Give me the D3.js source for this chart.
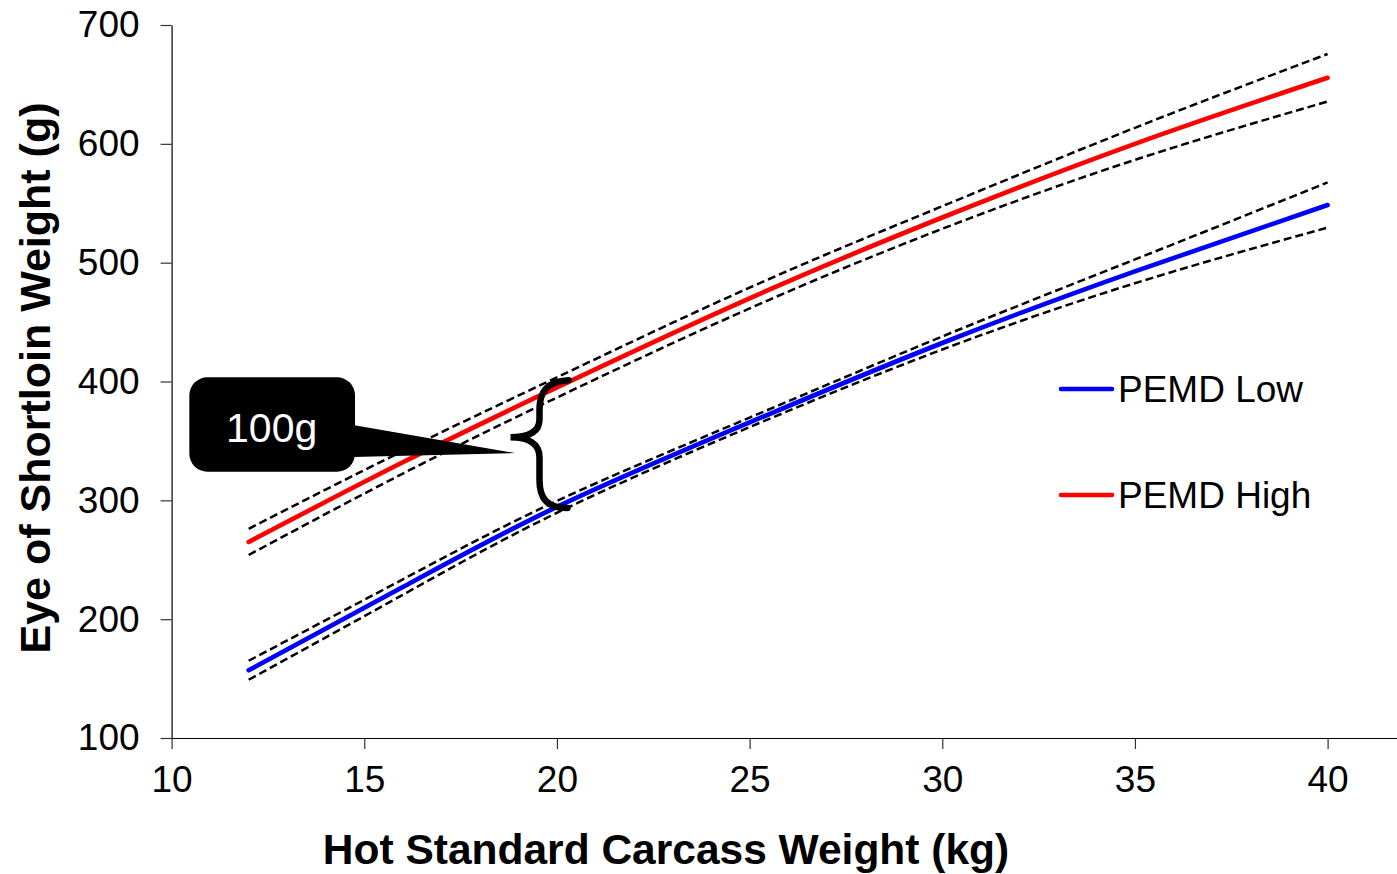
<!DOCTYPE html>
<html>
<head>
<meta charset="utf-8">
<script src="https://cdn.jsdelivr.net/npm/d3@7"></script>
<style>
  html, body { margin: 0; padding: 0; background: #fff; }
  svg { display: block; font-family: "Liberation Sans", Arial, sans-serif; }
</style>
</head>
<body>
<svg id="chart" width="1397" height="874"></svg>
<script>
// Hot standard carcass weight (kg) at which the curves are sampled
const hscw = [12, 16, 20, 25, 30, 35, 40];

// Predicted eye of shortloin weight (g), with upper / lower confidence bounds
const lowMean  = [157, 227, 294.5, 365.6, 432.4, 492.7, 548.5];
const lowUpper = [165, 233.5, 299.5, 369.6, 437.9, 502.7, 567.5];
const lowLower = [149, 220.5, 289.5, 361.6, 426.9, 482.7, 529.5];

const highMean  = [265, 332, 395, 470, 538, 600, 655.6];
const highUpper = [276, 341.5, 403.5, 479, 547.5, 613.5, 675.6];
const highLower = [254, 322.5, 386.5, 461.5, 528.5, 586.5, 635.6];

const seriesNames = ["PEMD Low", "PEMD High"];
const xTicks = [10, 15, 20, 25, 30, 35, 40];
const yTicks = [100, 200, 300, 400, 500, 600, 700];

// Difference annotation between the two curves
const diffLabel = "100g";
const braceAt = 20.3;          // kg
const braceTop = 401;          // g (on PEMD High)
const braceBottom = 293.5;     // g (on PEMD Low)

const W = 1397, H = 874;
const svg = d3.select("#chart");

const x = d3.scaleLinear().domain([10, 40]).range([171.6, 1327.6]);
const y = d3.scaleLinear().domain([100, 700]).range([738, 25]);

const FONT = 37;

// ---- axes ----
const xAxis = d3.axisBottom(x).tickValues(xTicks).tickSize(11).tickPadding(17).tickSizeOuter(0);
const gx = svg.append("g").attr("transform", `translate(0,${y(100)})`).call(xAxis);
gx.select(".domain").remove();
gx.append("line")
  .attr("x1", x(10)).attr("x2", W).attr("y1", 0.5).attr("y2", 0.5)
  .attr("stroke", "#000").attr("stroke-width", 1.2);
gx.selectAll(".tick line").attr("stroke", "#333").attr("stroke-width", 1.2);
gx.selectAll(".tick text").attr("font-size", FONT).attr("fill", "#000")
  .attr("font-family", "'Liberation Sans', Arial, sans-serif");

const yAxis = d3.axisLeft(y).tickValues(yTicks).tickSize(11).tickPadding(21).tickSizeOuter(0);
const gy = svg.append("g").attr("transform", `translate(${x(10)},0)`).call(yAxis);
gy.select(".domain").attr("stroke", "#000").attr("stroke-width", 1.2);
gy.selectAll(".tick line").attr("stroke", "#333").attr("stroke-width", 1.2);
gy.selectAll(".tick text").attr("font-size", FONT).attr("fill", "#000")
  .attr("font-family", "'Liberation Sans', Arial, sans-serif");

// axis titles
svg.append("text")
  .attr("x", 666).attr("y", 864)
  .attr("text-anchor", "middle")
  .attr("font-size", 42.5).attr("font-weight", "bold")
  .text("Hot Standard Carcass Weight (kg)");

svg.append("text")
  .attr("transform", `translate(50,378) rotate(-90)`)
  .attr("text-anchor", "middle")
  .attr("font-size", 43).attr("font-weight", "bold")
  .text("Eye of Shortloin Weight (g)");

// ---- curves ----
const line = d3.line()
  .x((d, i) => x(hscw[i]))
  .y(d => y(d))
  .curve(d3.curveNatural);

const plot = svg.append("g");

const means = [
  { values: lowMean, color: "#0000ff" },
  { values: highMean, color: "#ff0000" }
];
plot.selectAll("path.mean").data(means).join("path")
  .attr("class", "mean")
  .attr("d", d => line(d.values))
  .attr("fill", "none")
  .attr("stroke", d => d.color)
  .attr("stroke-width", 4.6)
  .attr("stroke-linecap", "round")
  .attr("stroke-linejoin", "round");

const bounds = [lowUpper, lowLower, highUpper, highLower];
plot.selectAll("path.bound").data(bounds).join("path")
  .attr("class", "bound")
  .attr("d", d => line(d))
  .attr("fill", "none")
  .attr("stroke", "#000")
  .attr("stroke-width", 2.5)
  .attr("stroke-dasharray", "8,4");

// ---- legend ----
const legend = svg.append("g");
const legendItems = [
  { name: seriesNames[0], color: "#0000ff", y: 389 },
  { name: seriesNames[1], color: "#ff0000", y: 495 }
];
legendItems.forEach(it => {
  legend.append("line")
    .attr("x1", 1061).attr("x2", 1112).attr("y1", it.y).attr("y2", it.y)
    .attr("stroke", it.color).attr("stroke-width", 4.6).attr("stroke-linecap", "round");
  legend.append("text")
    .attr("x", 1118).attr("y", it.y + 13)
    .attr("font-size", FONT).attr("fill", "#000")
    .text(it.name);
});

// ---- callout with brace ----
const ann = svg.append("g");
const bx = x(braceAt);
const yt = y(braceTop), yb = y(braceBottom);
const ym = (yt + yb) / 2 - 7;
const bulge = bx - 29, cusp = bx - 58;

ann.append("path")
  .attr("d", `M${bx},${yt}
    C${bulge + 7},${yt + 1} ${bulge},${yt + 12} ${bulge},${yt + 30}
    L${bulge},${ym - 18}
    C${bulge},${ym - 5} ${bulge - 12},${ym} ${cusp},${ym}
    C${bulge - 12},${ym} ${bulge},${ym + 6} ${bulge},${ym + 20}
    L${bulge},${yb - 28}
    C${bulge},${yb - 10} ${bulge + 7},${yb} ${bx - 1},${yb}`)
  .attr("fill", "none")
  .attr("stroke", "#000")
  .attr("stroke-width", 6.5)
  .attr("stroke-linecap", "round");

// callout box anchored in data units
const boxX0 = x(10.46), boxX1 = x(14.76);
const boxY0 = y(403.5), boxY1 = y(324.1);
const tipX = x(18.91), tipY = y(339.8);

ann.append("path")
  .attr("d", `M${boxX1 - 2},${y(363.4)} L${tipX},${tipY} L${boxX1 - 2},${y(336.5)} Z`)
  .attr("fill", "#000");
ann.append("rect")
  .attr("x", boxX0).attr("y", boxY0)
  .attr("width", boxX1 - boxX0).attr("height", boxY1 - boxY0)
  .attr("rx", 18).attr("ry", 18)
  .attr("fill", "#000");
ann.append("text")
  .attr("x", (boxX0 + boxX1) / 2 - 0.5).attr("y", y(348.2) - 1)
  .attr("text-anchor", "middle")
  .attr("font-size", 41).attr("fill", "#fff")
  .text(diffLabel);
</script>
</body>
</html>
